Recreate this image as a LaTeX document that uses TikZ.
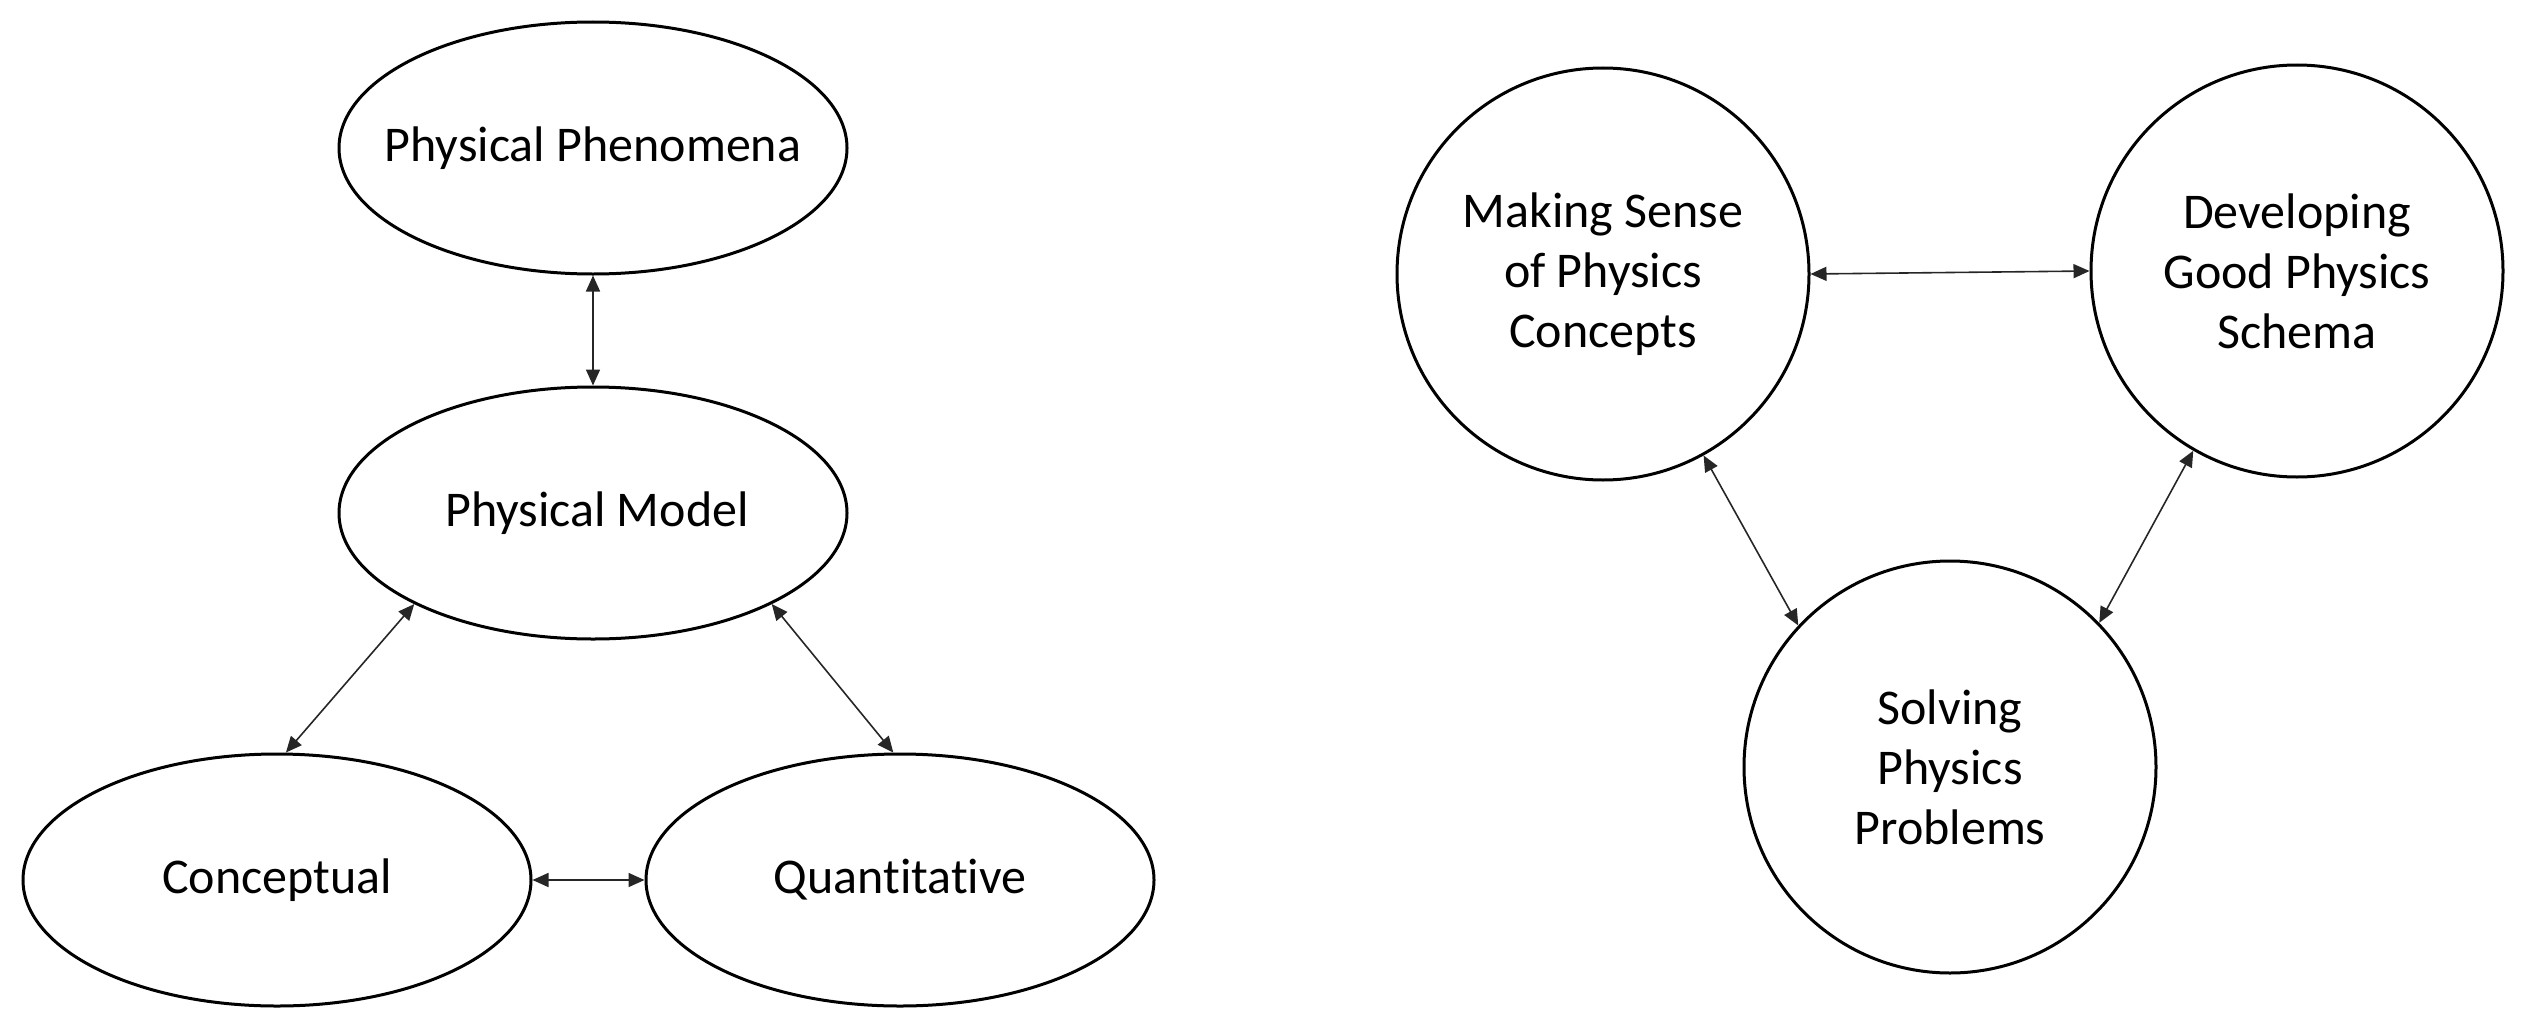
\documentclass[tikz,border=0pt]{standalone}
\usepackage{fontspec}
\setmainfont{Carlito}[Ligatures={NoCommon}]
\usetikzlibrary{shapes.geometric,arrows.meta}
\begin{document}
\begin{tikzpicture}[x=1pt,y=-1pt,
  oval/.style={ellipse,draw=black,line width=3pt,minimum width=508pt,minimum height=252pt,inner sep=0pt,font=\fontsize{50}{60}\selectfont},
  bubble/.style={circle,draw=black,line width=3pt,minimum size=412pt,inner sep=0pt,align=center,font=\fontsize{50}{60}\selectfont},
  link/.style={line width=1.6pt,draw=black!85,{Triangle[length=16pt,width=14pt]}-{Triangle[length=16pt,width=14pt]}}]
\path[use as bounding box] (0,0) rectangle (2527,1025);
% left diagram
\node[oval] (pp) at (593,148) {\makebox[0pt]{Physical Phenomena}};
\node[oval] (pm) at (593,513) {\makebox[0pt]{\hspace{8pt}Physical Model}};
\node[oval] (co) at (277,880) {\makebox[0pt]{Conceptual}};
\node[oval] (qu) at (900,880) {\makebox[0pt]{Quantitative}};
\draw[link] (pp.south) -- (pm.north);
\draw[link] (pm.207.4) -- (co.86.5);
\draw[link] (pm.-27.6) -- (qu.93);
\draw[link] (co.east) -- (qu.west);
% right diagram
\node[bubble] (ms) at (1603,274) {Making Sense\\of Physics\\Concepts};
\node[bubble] (dg) at (2297,271) {Developing\\Good Physics\\Schema};
\node[bubble] (sp) at (1950,767) {Solving\\Physics\\Problems};
\draw[link] (ms.east) -- (dg.west);
\draw[link] (ms.-61.6) -- (sp.137);
\draw[link] (dg.240.8) -- (sp.44.4);
\end{tikzpicture}
\end{document}
